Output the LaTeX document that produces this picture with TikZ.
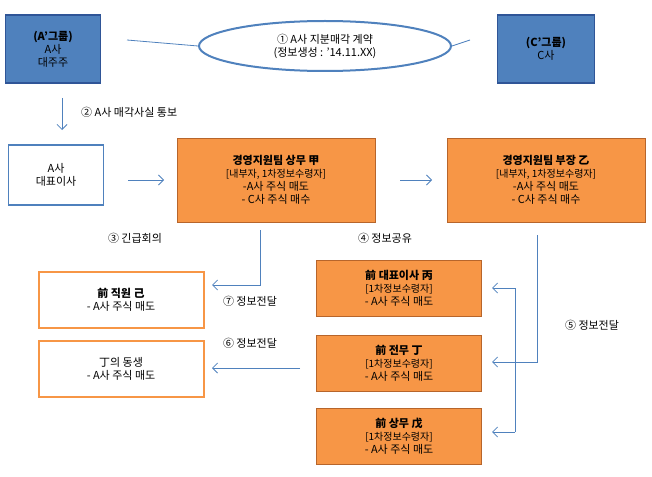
\documentclass[tikz,border=0pt]{standalone}
\usepackage{fontspec}
\setmainfont{Noto Sans CJK KR}
\usetikzlibrary{shapes.geometric,arrows.meta}
\definecolor{bl}{HTML}{4F81BD}
\definecolor{bld}{HTML}{2F5597}
\definecolor{org}{HTML}{F79646}
\definecolor{orgd}{HTML}{B7652B}
\begin{document}
\begin{tikzpicture}[x=1pt,y=-1pt,font=\fontsize{11}{13}\selectfont,
 bluebox/.style={draw=bld,line width=1.2pt,fill=bl,text=black,align=center,inner sep=0},
 wbox/.style={draw=bl,line width=1.5pt,fill=white,align=center,inner sep=0},
 obox/.style={draw=orgd,line width=1pt,fill=org,align=center,inner sep=0},
 owbox/.style={draw=org,line width=2pt,fill=white,align=center,inner sep=0},
 conn/.style={draw=bl,line width=0.8pt},
 arr/.style={conn,-{Straight Barb[length=5pt,width=10pt]}},
 lbl/.style={inner sep=1pt}]
\useasboundingbox (0,0) rectangle (652,476);
\node[bluebox,minimum width=95,minimum height=68] (ag) at (53,49) {\textbf{(A'그룹)}\\A사\\대주주};
\node[bluebox,minimum width=97,minimum height=68] (cg) at (546,49) {\textbf{(C'그룹)}\\C사};
\node[ellipse,draw=bl,line width=2pt,fill=white,minimum width=252,minimum height=50,inner sep=0,align=center] (el) at (325,46) {① A사 지분매각 계약\\(정보생성 : '14.11.XX)};
\draw[conn] (127,40) -- (el.west);
\draw[conn] (el.east) -- (470,40);
\coordinate (a1) at (62,98); \coordinate (a2) at (62,130);
\draw[arr] (a1) -- (a2);
\node[lbl,anchor=west] (l2) at (80,112) {② A사 매각사실 통보};
\node[wbox,minimum width=95,minimum height=60] (ceo) at (56,175) {A사\\대표이사};
\node[obox,minimum width=198,minimum height=84] (gap) at (276,180) {\textbf{경영지원팀 상무 甲}\\{\fontsize{10}{12}\selectfont[내부자, 1차정보수령자]}\\-A사 주식 매도\\- C사 주식 매수};
\node[obox,minimum width=198,minimum height=84] (eul) at (546,180) {\textbf{경영지원팀 부장 乙}\\{\fontsize{10}{12}\selectfont[내부자, 1차정보수령자]}\\-A사 주식 매도\\- C사 주식 매수};
\coordinate (b1) at (128,180); \coordinate (b2) at (164,180);
\draw[arr] (b1) -- (b2);
\coordinate (c1) at (400,180); \coordinate (c2) at (432,180);
\draw[arr] (c1) -- (c2);
\node[lbl] (l3) at (135,238) {③ 긴급회의};
\node[lbl] (l4) at (385,238) {④ 정보공유};
\node[owbox,minimum width=165,minimum height=56] (gi) at (121,300) {\textbf{前 직원 己}\\- A사 주식 매도};
\node[owbox,minimum width=165,minimum height=56] (ds) at (121,369) {丁의 동생\\- A사 주식 매도};
\node[obox,minimum width=165,minimum height=56] (byung) at (399,288) {\textbf{前 대표이사 丙}\\{\fontsize{10}{12}\selectfont[1차정보수령자]}\\- A사 주식 매도};
\node[obox,minimum width=165,minimum height=56] (jeong) at (399,363) {\textbf{前 전무 丁}\\{\fontsize{10}{12}\selectfont[1차정보수령자]}\\- A사 주식 매도};
\node[obox,minimum width=165,minimum height=56] (mu) at (399,436) {\textbf{前 상무 戊}\\{\fontsize{10}{12}\selectfont[1차정보수령자]}\\- A사 주식 매도};
\coordinate (d1) at (260,230); \coordinate (d2) at (212,285);
\draw[arr] (d1) |- (d2);
\node[lbl] (l7) at (250,301) {⑦ 정보전달};
\node[lbl] (l6) at (250,343) {⑥ 정보전달};
\coordinate (e1) at (300,368); \coordinate (e2) at (212,368);
\draw[arr] (e1) -- (e2);
\coordinate (f1) at (537,235); \coordinate (f2) at (492,362);
\draw[arr] (f1) |- (f2);
\coordinate (g0) at (515,288); \coordinate (g1) at (492,288); \coordinate (g2) at (515,432); \coordinate (g3) at (492,432);
\draw[conn] (g0) -- (g2);
\draw[arr] (g0) -- (g1);
\draw[arr] (g2) -- (g3);
\node[lbl] (l5) at (592,325) {⑤ 정보전달};
\end{tikzpicture}
\end{document}
